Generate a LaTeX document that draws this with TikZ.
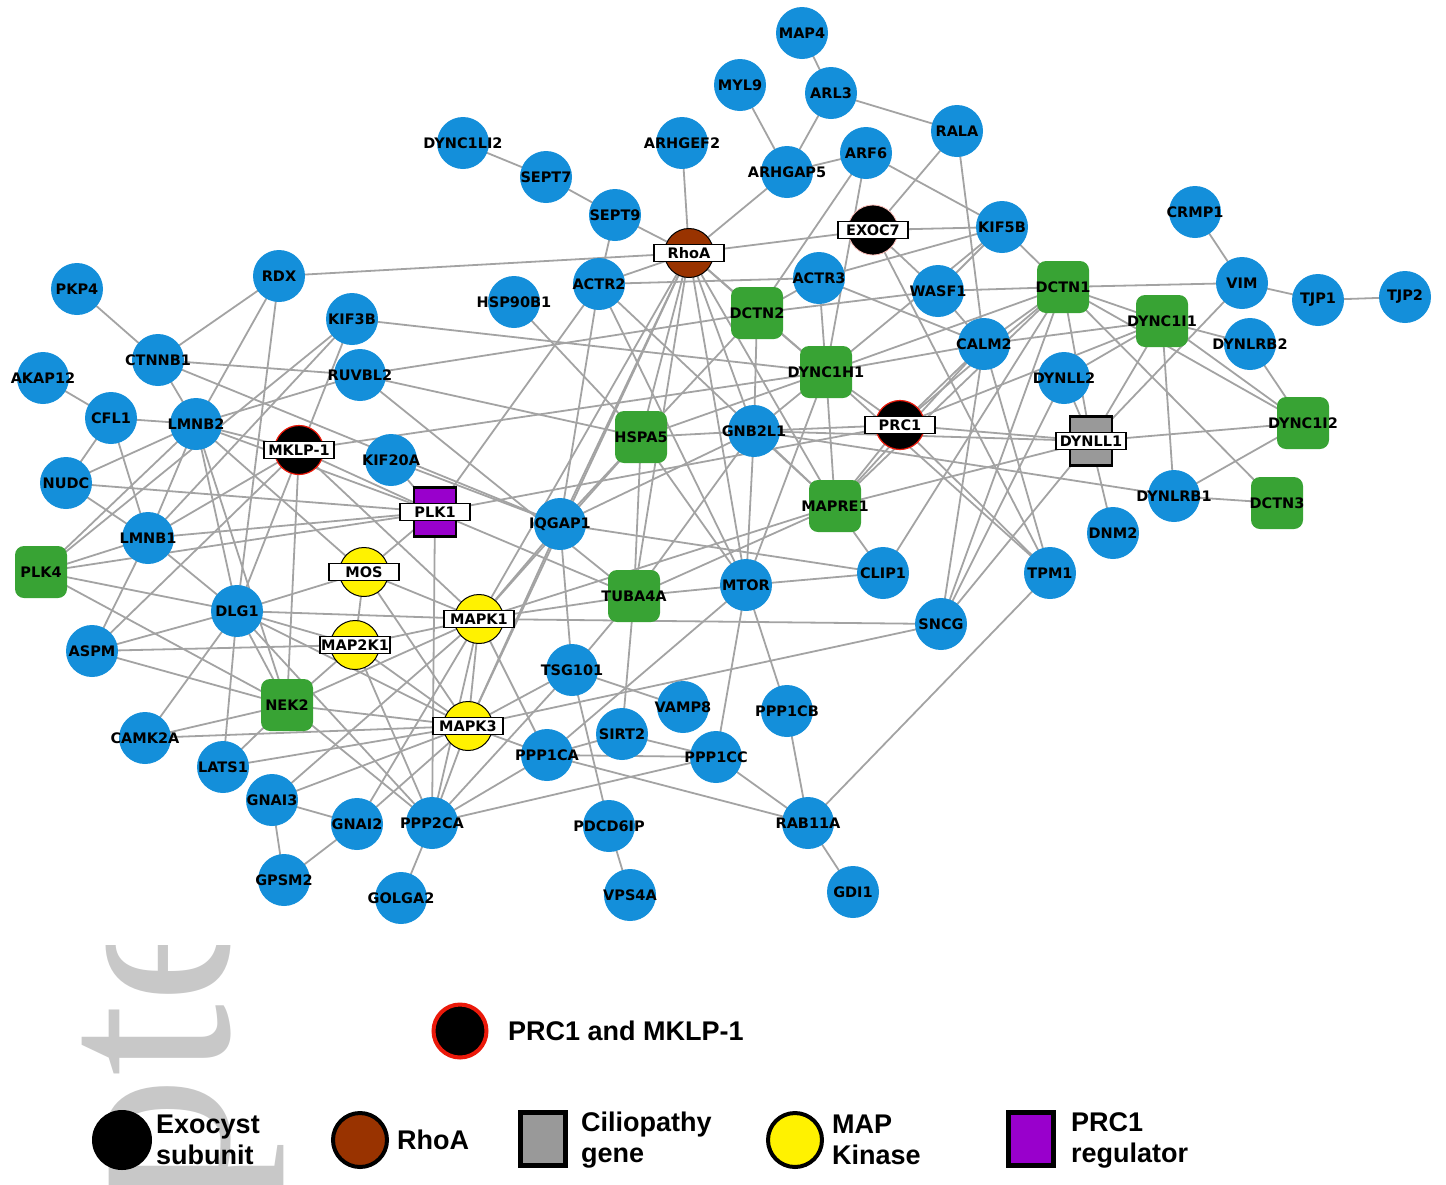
\documentclass[tikz,border=0pt]{standalone}
\usepackage{fontspec}
\setmainfont{DejaVu Sans}
\newfontfamily\legfont{Liberation Sans}
\newfontfamily\wmfont{Liberation Serif}
\usetikzlibrary{backgrounds}
\definecolor{nblue}{RGB}{20,143,218}
\definecolor{ngreen}{RGB}{56,163,52}
\definecolor{nbrown}{RGB}{153,51,0}
\definecolor{npurple}{RGB}{153,0,204}
\definecolor{ngray}{RGB}{153,153,153}
\definecolor{nedge}{RGB}{163,163,163}
\definecolor{wmgray}{RGB}{200,200,200}
\definecolor{nred}{RGB}{235,25,10}
\tikzset{
 bcirc/.style={circle,fill=nblue,minimum size=52pt,inner sep=0pt},
 gsq/.style={rectangle,rounded corners=9pt,fill=ngreen,minimum size=52pt,inner sep=0pt},
 lbl/.style={font=\bfseries\fontsize{14.5}{15}\selectfont,text=black,inner sep=0pt},
 lblbox/.style={draw=black,line width=1.3pt,fill=white,minimum width=70pt,minimum height=17pt,inner sep=0pt,font=\bfseries\fontsize{14.5}{15}\selectfont},
 spmk/.style={circle,fill=black,draw=nred,line width=1.2pt,minimum size=49pt,inner sep=0pt},
 spex/.style={circle,fill=black,draw=nred!30,line width=0.8pt,minimum size=50pt,inner sep=0pt},
 sprho/.style={circle,fill=nbrown,draw=black,line width=1pt,minimum size=49pt,inner sep=0pt},
 spmap/.style={circle,fill=yellow,draw=black,line width=1pt,minimum size=49pt,inner sep=0pt},
 spplk/.style={rectangle,fill=npurple,draw=black,line width=2.5pt,minimum width=42pt,minimum height=49pt,inner sep=0pt},
 spcil/.style={rectangle,fill=ngray,draw=black,line width=2.5pt,minimum width=42pt,minimum height=49pt,inner sep=0pt},
 edge/.style={draw=nedge,line width=1.8pt},
 legtxt/.style={font=\legfont\bfseries\fontsize{27}{31}\selectfont,align=left,inner sep=0pt,anchor=west,text=black},
 wmtxt/.style={font=\wmfont\fontsize{260}{260}\selectfont,text=wmgray,inner sep=0pt}
}
\newcommand{\BlueN}[4]{\node[bcirc] (#1) at (#2,#3) {}; \node[lbl] (#1t) at (#1) {#4};}
\newcommand{\GreenN}[4]{\node[gsq] (#1) at (#2,#3) {}; \node[lbl] (#1t) at (#1) {#4};}
\newcommand{\SpecN}[5]{\node[#5] (#1) at (#2,#3) {}; \node[lblbox] (#1t) at (#1) {#4};}
\begin{document}
\begin{tikzpicture}[x=1pt,y=-1pt]
\useasboundingbox (0,0) rectangle (1446,1184);
% watermark
\begin{scope}
\clip (0,945) rectangle (420,1184);
\node[wmtxt,rotate=90,anchor=base west] (wm) at (228,1207) {pte};
\end{scope}
% blue nodes
\BlueN{MAP4}{802}{33}{MAP4}
\BlueN{MYL9}{740}{85}{MYL9}
\BlueN{ARL3}{831}{93}{ARL3}
\BlueN{RALA}{957}{131}{RALA}
\BlueN{DYNC1LI2}{463}{143}{DYNC1LI2}
\BlueN{ARHGEF2}{682}{143}{ARHGEF2}
\BlueN{ARHGAP5}{787}{172}{ARHGAP5}
\BlueN{ARF6}{866}{153}{ARF6}
\BlueN{SEPT7}{546}{177}{SEPT7}
\BlueN{SEPT9}{615}{215}{SEPT9}
\BlueN{KIF5B}{1002}{227}{KIF5B}
\BlueN{CRMP1}{1195}{212}{CRMP1}
\BlueN{PKP4}{77}{289}{PKP4}
\BlueN{RDX}{279}{276}{RDX}
\BlueN{ACTR2}{599}{284}{ACTR2}
\BlueN{ACTR3}{819}{278}{ACTR3}
\BlueN{HSP90B1}{514}{302}{HSP90B1}
\BlueN{WASF1}{938}{291}{WASF1}
\BlueN{VIM}{1242}{283}{VIM}
\BlueN{TJP1}{1318}{300}{TJP1}
\BlueN{TJP2}{1405}{297}{TJP2}
\BlueN{KIF3B}{352}{319}{KIF3B}
\BlueN{CTNNB1}{158}{360}{CTNNB1}
\BlueN{RUVBL2}{360}{375}{RUVBL2}
\BlueN{CALM2}{984}{344}{CALM2}
\BlueN{DYNLRB2}{1250}{344}{DYNLRB2}
\BlueN{DYNLL2}{1064}{378}{DYNLL2}
\BlueN{AKAP12}{43}{378}{AKAP12}
\BlueN{CFL1}{111}{418}{CFL1}
\BlueN{LMNB2}{196}{424}{LMNB2}
\BlueN{KIF20A}{391}{460}{KIF20A}
\BlueN{GNB2L1}{754}{431}{GNB2L1}
\BlueN{NUDC}{66}{483}{NUDC}
\BlueN{DYNLRB1}{1174}{496}{DYNLRB1}
\BlueN{IQGAP1}{560}{524}{IQGAP1}
\BlueN{DNM2}{1113}{533}{DNM2}
\BlueN{LMNB1}{148}{538}{LMNB1}
\BlueN{CLIP1}{883}{573}{CLIP1}
\BlueN{TPM1}{1050}{573}{TPM1}
\BlueN{MTOR}{746}{585}{MTOR}
\BlueN{DLG1}{237}{611}{DLG1}
\BlueN{SNCG}{941}{624}{SNCG}
\BlueN{ASPM}{92}{651}{ASPM}
\BlueN{TSG101}{572}{670}{TSG101}
\BlueN{VAMP8}{683}{707}{VAMP8}
\BlueN{PPP1CB}{787}{711}{PPP1CB}
\BlueN{CAMK2A}{145}{738}{CAMK2A}
\BlueN{SIRT2}{622}{734}{SIRT2}
\BlueN{PPP1CA}{547}{755}{PPP1CA}
\BlueN{PPP1CC}{716}{757}{PPP1CC}
\BlueN{LATS1}{223}{767}{LATS1}
\BlueN{GNAI3}{272}{800}{GNAI3}
\BlueN{GNAI2}{357}{824}{GNAI2}
\BlueN{PPP2CA}{432}{823}{PPP2CA}
\BlueN{PDCD6IP}{609}{826}{PDCD6IP}
\BlueN{RAB11A}{808}{823}{RAB11A}
\BlueN{GPSM2}{284}{880}{GPSM2}
\BlueN{GOLGA2}{401}{898}{GOLGA2}
\BlueN{VPS4A}{630}{895}{VPS4A}
\BlueN{GDI1}{853}{892}{GDI1}
% green nodes
\GreenN{DCTN2}{757}{313}{DCTN2}
\GreenN{DCTN1}{1063}{287}{DCTN1}
\GreenN{DYNC1I1}{1162}{321}{DYNC1I1}
\GreenN{DYNC1H1}{826}{372}{DYNC1H1}
\GreenN{HSPA5}{641}{437}{HSPA5}
\GreenN{DYNC1I2}{1303}{423}{DYNC1I2}
\GreenN{MAPRE1}{835}{506}{MAPRE1}
\GreenN{DCTN3}{1277}{503}{DCTN3}
\GreenN{PLK4}{41}{572}{PLK4}
\GreenN{TUBA4A}{634}{596}{TUBA4A}
\GreenN{NEK2}{287}{705}{NEK2}
% special nodes
\SpecN{RhoA}{689}{253}{RhoA}{sprho}
\SpecN{EXOC7}{873}{230}{EXOC7}{spex}
\SpecN{MKLP}{299}{450}{MKLP-1}{spmk}
\SpecN{PRC1}{900}{425}{PRC1}{spmk}
\SpecN{PLK1}{435}{512}{PLK1}{spplk}
\SpecN{DYNLL1}{1091}{441}{DYNLL1}{spcil}
\SpecN{MOS}{364}{572}{MOS}{spmap}
\SpecN{MAPK1}{479}{619}{MAPK1}{spmap}
\SpecN{MAP2K1}{355}{645}{MAP2K1}{spmap}
\SpecN{MAPK3}{468}{726}{MAPK3}{spmap}
% edges
\begin{pgfonlayer}{background}
\foreach \a/\b in {MAP4/ARL3, ARL3/ARHGAP5, ARL3/RALA, MYL9/ARHGAP5, DYNC1LI2/SEPT7, SEPT7/SEPT9, SEPT9/RhoA, SEPT9/ACTR2, ARHGEF2/RhoA, RhoA/ARHGAP5, ARHGAP5/ARF6, ARF6/KIF5B, ARF6/DCTN2, ARF6/DYNC1H1, RALA/EXOC7, RALA/CALM2, EXOC7/KIF5B, EXOC7/RhoA, EXOC7/WASF1, EXOC7/TPM1, RDX/RhoA, ACTR2/RhoA, ACTR2/ACTR3, ACTR3/KIF5B, ACTR3/CALM2, ACTR3/DYNC1H1, ACTR3/DCTN2, KIF5B/WASF1, KIF5B/DCTN1, KIF5B/DYNC1H1, WASF1/DCTN1, DCTN2/WASF1, WASF1/CALM2, CRMP1/VIM, VIM/TJP1, TJP1/TJP2, DCTN1/VIM, DCTN1/DYNC1I1, DCTN1/DYNC1I2, DCTN1/DCTN3, DCTN1/CALM2, DCTN1/DYNC1H1, DCTN1/PRC1, DCTN1/MAPRE1, DCTN1/DYNLL1, VIM/DYNLL1, DYNC1I1/DYNLL1, DYNC1I1/DYNLL2, DYNC1I1/CALM2, DYNC1I1/DYNLRB2, DYNC1I1/DYNC1I2, DYNC1I1/DYNLRB1, DYNLRB2/DYNC1I2, DYNC1I2/DYNLL1, DYNC1I2/DYNLRB1, DYNLRB1/DCTN3, DYNLL1/DNM2, DYNLL1/DYNLL2, DYNLL1/SNCG, GNB2L1/DYNLRB1, GNB2L1/DYNLL1, MAPRE1/DYNLL1, TPM1/CALM2, TPM1/RAB11A, TPM1/DYNC1H1, CALM2/SNCG, CALM2/MAPRE1, CALM2/DYNC1H1, CALM2/PRC1, SNCG/DYNLL2, DYNC1H1/MAPRE1, DYNC1H1/DCTN2, DYNC1H1/PRC1, DYNC1H1/GNB2L1, DYNC1H1/HSPA5, DYNC1H1/KIF3B, DCTN2/GNB2L1, DCTN2/HSPA5, DCTN2/RUVBL2, GNB2L1/HSPA5, GNB2L1/MAPRE1, GNB2L1/PRC1, GNB2L1/MTOR, GNB2L1/TUBA4A, GNB2L1/IQGAP1, GNB2L1/RhoA, MAPRE1/CLIP1, MAPRE1/PRC1, MAPRE1/TUBA4A, MAPRE1/RhoA, MAPRE1/MAPK1, CLIP1/IQGAP1, CLIP1/MTOR, CLIP1/DCTN1, PRC1/DYNLL1, PRC1/DYNC1I1, PRC1/PLK1, PRC1/TPM1, HSP90B1/HSPA5, HSPA5/TUBA4A, HSPA5/MTOR, HSPA5/IQGAP1, HSPA5/MAPK1, RhoA/IQGAP1, RhoA/HSPA5, RhoA/TUBA4A, RhoA/MTOR, RhoA/DYNC1H1, RhoA/DCTN2, RhoA/MAPK1, RhoA/MAPK3, ACTR2/IQGAP1, ACTR2/PLK1, ACTR2/MAPRE1, ACTR2/MTOR, MTOR/TUBA4A, MTOR/PPP1CB, MTOR/PPP1CC, MTOR/PPP1CA, MTOR/DYNC1H1, TUBA4A/SIRT2, TUBA4A/MAPK1, TUBA4A/PLK1, TUBA4A/TSG101, IQGAP1/TSG101, IQGAP1/MAPK1, IQGAP1/KIF20A, IQGAP1/CTNNB1, IQGAP1/MAPK3, TSG101/VAMP8, TSG101/PDCD6IP, TSG101/MAPK3, TSG101/PPP2CA, PDCD6IP/VPS4A, SIRT2/PPP1CA, SIRT2/PPP1CC, PPP1CA/PPP1CC, PPP1CA/RAB11A, PPP1CC/RAB11A, PPP1CC/PPP2CA, PPP1CB/RAB11A, RAB11A/GDI1, SNCG/MAPK1, SNCG/MAPK3, SNCG/DCTN1, MAPK1/PPP1CA, MAPK3/PPP1CA, PPP2CA/PPP1CA, MAPK1/MAP2K1, MAPK3/MAP2K1, MOS/MAP2K1, MOS/MAPK1, MOS/PLK1, MOS/MAPK3, MAPK1/MAPK3, PPP2CA/MAPK1, PPP2CA/MAPK3, PPP2CA/PLK1, PPP2CA/GOLGA2, PPP2CA/NEK2, PPP2CA/MAP2K1, PPP2CA/DLG1, GNAI3/GNAI2, GNAI3/GPSM2, GNAI2/GPSM2, GNAI3/MAPK1, GNAI3/MAPK3, GNAI2/MAPK1, GNAI2/MAPK3, LATS1/DLG1, LATS1/NEK2, LATS1/MAPK3, CAMK2A/DLG1, CAMK2A/NEK2, CAMK2A/MAPK3, NEK2/MAPK3, NEK2/MAPK1, NEK2/MAP2K1, NEK2/DLG1, NEK2/MKLP, NEK2/PLK4, NEK2/ASPM, NEK2/LMNB2, DLG1/MAPK1, DLG1/MOS, DLG1/MAP2K1, DLG1/MAPK3, DLG1/PLK4, DLG1/ASPM, DLG1/RDX, DLG1/LMNB2, DLG1/LMNB1, ASPM/LMNB1, ASPM/MAP2K1, ASPM/MKLP, PLK4/LMNB1, PLK4/PLK1, PLK4/KIF3B, PLK4/LMNB2, LMNB1/PLK1, LMNB1/NUDC, LMNB1/CFL1, LMNB1/LMNB2, LMNB1/KIF3B, LMNB1/MKLP, NUDC/PLK1, NUDC/LMNB2, NUDC/CFL1, AKAP12/CFL1, CFL1/LMNB2, CTNNB1/LMNB2, CTNNB1/RUVBL2, CTNNB1/RDX, CTNNB1/PKP4, RDX/LMNB2, LMNB2/RUVBL2, LMNB2/MKLP, LMNB2/PLK1, LMNB2/MOS, KIF3B/DLG1, RUVBL2/TUBA4A, RUVBL2/HSPA5, MKLP/PLK1, MKLP/DYNC1H1, MKLP/MAPK1, KIF20A/PLK1}
  \draw[edge] (\a.center) -- (\b.center);
\end{pgfonlayer}
% legend
\node[circle,fill=black,draw=nred,line width=4pt,minimum size=53pt,inner sep=0pt] (legPM) at (460,1031) {};
\node[legtxt] (legPMt) at (508,1031) {PRC1 and MKLP-1};
\node[circle,fill=black,minimum size=60pt,inner sep=0pt] (legEx) at (122,1140) {};
\node[legtxt] (legExt) at (156,1140) {Exocyst\\subunit};
\node[circle,fill=nbrown,draw=black,line width=4pt,minimum size=54pt,inner sep=0pt] (legRh) at (360,1140) {};
\node[legtxt] (legRht) at (397,1140) {RhoA};
\node[rectangle,fill=ngray,draw=black,line width=5pt,minimum width=45pt,minimum height=53pt,inner sep=0pt] (legCi) at (543,1139) {};
\node[legtxt] (legCit) at (581,1140) {Ciliopathy\\gene};
\node[circle,fill=yellow,draw=black,line width=4pt,minimum size=54pt,inner sep=0pt] (legMK) at (795,1140) {};
\node[legtxt] (legMKt) at (832,1140) {MAP\\Kinase};
\node[rectangle,fill=npurple,draw=black,line width=5pt,minimum width=45pt,minimum height=53pt,inner sep=0pt] (legPR) at (1031,1139) {};
\node[legtxt] (legPRt) at (1071,1140) {PRC1\\regulator};
\end{tikzpicture}
\end{document}
